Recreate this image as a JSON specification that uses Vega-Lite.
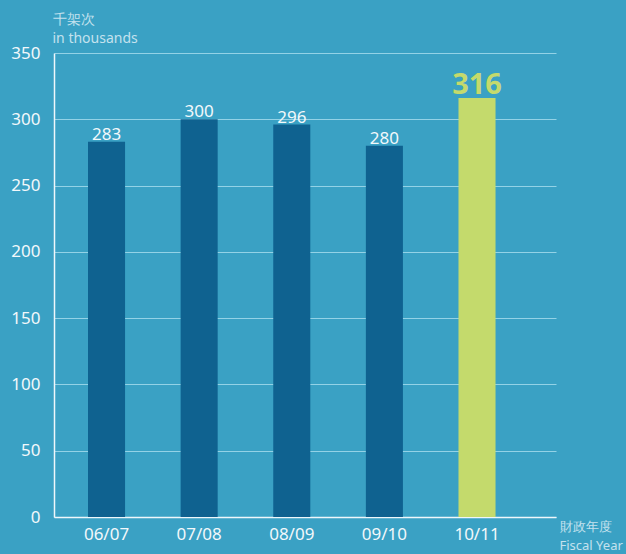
{
  "$schema": "https://vega.github.io/schema/vega-lite/v6.json",
  "width": 502,
  "height": 464,
  "autosize": {"type": "none"},
  "padding": {"left": 54, "top": 53, "right": 70, "bottom": 37},
  "background": "#3aa1c4",
  "config": {
    "view": {"stroke": null},
    "font": "Noto Sans"
  },
  "data": {
    "values": [
      {"year": "06/07", "flights": 283},
      {"year": "07/08", "flights": 300},
      {"year": "08/09", "flights": 296},
      {"year": "09/10", "flights": 280},
      {"year": "10/11", "flights": 316}
    ]
  },
  "encoding": {
    "x": {
      "field": "year",
      "type": "ordinal",
      "sort": null,
      "scale": {"paddingInner": 0.6, "paddingOuter": 0.51, "align": 0.36},
      "axis": {
        "title": ["財政年度", "Fiscal Year"],
        "titleX": 505,
        "titleY": 13,
        "titleAlign": "left",
        "titleAnchor": null,
        "titleBaseline": "alphabetic",
        "titleAngle": 0,
        "titleFontSize": 13,
        "titleFontWeight": "normal",
        "titleColor": "#c4e2ee",
        "titleLineHeight": 19,
        "labelAngle": 0,
        "labelFontSize": 17,
        "labelColor": "#f2f8fb",
        "labelPadding": 9,
        "ticks": false,
        "domainColor": "#eef7fb",
        "domainWidth": 1.5
      }
    },
    "y": {
      "field": "flights",
      "type": "quantitative",
      "scale": {"domain": [0, 350]},
      "axis": {
        "values": [0, 50, 100, 150, 200, 250, 300, 350],
        "title": ["千架次", "in thousands"],
        "titleX": -2,
        "titleY": -30,
        "titleAlign": "left",
        "titleAnchor": null,
        "titleBaseline": "alphabetic",
        "titleAngle": 0,
        "titleFontSize": 14,
        "titleFontWeight": "normal",
        "titleColor": "#c4e2ee",
        "titleLineHeight": 19,
        "labelFontSize": 17,
        "labelColor": "#f2f8fb",
        "labelPadding": 14,
        "ticks": false,
        "grid": true,
        "gridColor": "#93d2e6",
        "gridWidth": 1.2,
        "domainColor": "#eef7fb",
        "domainWidth": 1.5
      }
    }
  },
  "layer": [
    {
      "mark": {"type": "bar"},
      "encoding": {
        "color": {
          "condition": {"test": "datum.year === '10/11'", "value": "#c4da6c"},
          "value": "#0f6290"
        }
      }
    },
    {
      "transform": [{"filter": "datum.year !== '10/11'"}],
      "mark": {"type": "text", "baseline": "alphabetic", "dy": -2, "fontSize": 17, "color": "#f2f8fb"},
      "encoding": {"text": {"field": "flights", "type": "quantitative"}}
    },
    {
      "transform": [{"filter": "datum.year === '10/11'"}],
      "mark": {"type": "text", "baseline": "alphabetic", "dy": -4, "fontSize": 29, "fontWeight": "bold", "color": "#c4da6c"},
      "encoding": {"text": {"field": "flights", "type": "quantitative"}}
    }
  ]
}
